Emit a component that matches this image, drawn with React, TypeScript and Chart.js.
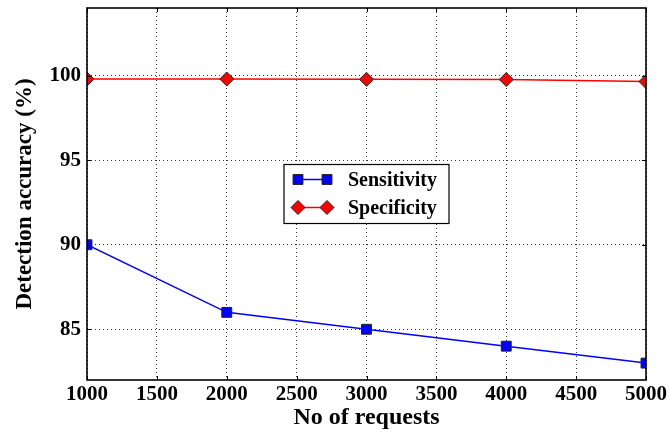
import React, { useEffect, useRef } from "react";
import { Chart, registerables } from "chart.js";

Chart.register(...registerables);

const requests = [1000, 2000, 3000, 4000, 5000];
const sensitivity = [90, 86, 85, 84, 83];
const specificity = [99.8, 99.8, 99.78, 99.77, 99.65];
const xTickValues = [1000, 1500, 2000, 2500, 3000, 3500, 4000, 4500, 5000];
const yTickValues = [85, 90, 95, 100];
const seriesNames = ["Sensitivity", "Specificity"];
const xTitle = "No of requests";
const yTitle = "Detection accuracy (%)";

const SERIF = '"Liberation Serif", "DejaVu Serif", serif';

function drawMarker(ctx: CanvasRenderingContext2D, style: string, x: number, y: number, r: number, fill: string) {
  ctx.beginPath();
  if (style === "rect") {
    const s = r * Math.SQRT1_2;
    ctx.rect(x - s, y - s, 2 * s, 2 * s);
  } else {
    ctx.moveTo(x, y - r);
    ctx.lineTo(x + r, y);
    ctx.lineTo(x, y + r);
    ctx.lineTo(x - r, y);
    ctx.closePath();
  }
  ctx.fillStyle = fill;
  ctx.fill();
  ctx.lineWidth = 1;
  ctx.strokeStyle = "#222";
  ctx.stroke();
}

const framePlugin = {
  id: "frameAndLegend",
  afterDatasetsDraw(chart: any) {
    const { ctx, chartArea: a, scales } = chart;
    ctx.save();
    // inward tick marks
    ctx.strokeStyle = "#000";
    ctx.lineWidth = 1;
    ctx.setLineDash([]);
    const L = 4;
    ctx.beginPath();
    scales.x.ticks.forEach((t: any) => {
      const px = Math.round(scales.x.getPixelForValue(t.value)) + 0.5;
      ctx.moveTo(px, a.bottom);
      ctx.lineTo(px, a.bottom - L);
      ctx.moveTo(px, a.top);
      ctx.lineTo(px, a.top + L);
    });
    scales.y.ticks.forEach((t: any) => {
      const py = Math.round(scales.y.getPixelForValue(t.value)) + 0.5;
      ctx.moveTo(a.left, py);
      ctx.lineTo(a.left + L, py);
      ctx.moveTo(a.right, py);
      ctx.lineTo(a.right - L, py);
    });
    ctx.stroke();
    // frame
    ctx.lineWidth = 1.6;
    ctx.strokeRect(a.left, a.top, a.right - a.left, a.bottom - a.top);

    // legend (matplotlib loc="center")
    const bw = 165;
    const bh = 59;
    const cx = (a.left + a.right) / 2;
    const cy = (a.top + a.bottom) / 2;
    const bx = cx - bw / 2;
    const by = cy - bh / 2;
    ctx.fillStyle = "#fff";
    ctx.fillRect(bx, by, bw, bh);
    ctx.lineWidth = 1.2;
    ctx.strokeStyle = "#000";
    ctx.strokeRect(bx, by, bw, bh);
    chart.data.datasets.forEach((ds: any, i: number) => {
      const y = by + 15 + i * 28;
      const x1 = bx + 14;
      const x2 = bx + 43;
      ctx.beginPath();
      ctx.moveTo(x1, y);
      ctx.lineTo(x2, y);
      ctx.strokeStyle = ds.borderColor;
      ctx.lineWidth = 1.5;
      ctx.stroke();
      drawMarker(ctx, ds.pointStyle, x1, y, ds.pointRadius, ds.pointBackgroundColor);
      drawMarker(ctx, ds.pointStyle, x2, y, ds.pointRadius, ds.pointBackgroundColor);
      ctx.fillStyle = "#000";
      ctx.font = `bold 20px ${SERIF}`;
      ctx.textAlign = "left";
      ctx.textBaseline = "middle";
      ctx.fillText(ds.label, bx + 64, y + 1);
    });
    ctx.restore();
  },
};

export default function App() {
  const ref = useRef<HTMLCanvasElement | null>(null);
  useEffect(() => {
    document.body.style.margin = "0";
    const canvas = ref.current;
    if (!canvas) return;
    const chart = new Chart(canvas, {
      type: "line",
      data: {
        datasets: [
          {
            label: seriesNames[0],
            data: requests.map((x, i) => ({ x, y: sensitivity[i] })),
            borderColor: "#0000ff",
            backgroundColor: "#0000ff",
            pointBackgroundColor: "#0000ff",
            pointBorderColor: "#222",
            pointBorderWidth: 1,
            pointStyle: "rect",
            pointRadius: 7,
            borderWidth: 1.5,
            tension: 0,
          } as any,
          {
            label: seriesNames[1],
            data: requests.map((x, i) => ({ x, y: specificity[i] })),
            borderColor: "#ff0000",
            backgroundColor: "#ff0000",
            pointBackgroundColor: "#ff0000",
            pointBorderColor: "#222",
            pointBorderWidth: 1,
            pointStyle: "rectRot",
            pointRadius: 7,
            borderWidth: 1.5,
            tension: 0,
          } as any,
        ],
      },
      options: {
        animation: false,
        responsive: false,
        devicePixelRatio: 1,
        layout: { padding: { left: 0, top: 7, right: 24, bottom: 0 } },
        plugins: { legend: { display: false }, tooltip: { enabled: false } },
        scales: {
          x: {
            type: "linear",
            min: 1000,
            max: 5000,
            afterBuildTicks: (s: any) => {
              s.ticks = xTickValues.map((v) => ({ value: v }));
            },
            afterFit: (s: any) => {
              s.height = 52;
              s.paddingLeft = 0;
              s.paddingRight = 0;
            },
            grid: { color: "#333", lineWidth: 1, drawTicks: false },
            border: { display: false, dash: [1, 3] },
            ticks: {
              color: "#000",
              padding: 2,
              maxRotation: 0,
              autoSkip: false,
              font: { family: SERIF, size: 21, weight: "bold" },
              callback: (v: any) => String(v),
            },
            title: {
              display: true,
              text: xTitle,
              color: "#000",
              font: { family: SERIF, size: 24, weight: "bold" },
              padding: { top: 0, bottom: 0 },
            },
          },
          y: {
            type: "linear",
            min: 82,
            max: 104,
            afterBuildTicks: (s: any) => {
              s.ticks = yTickValues.map((v) => ({ value: v }));
            },
            afterFit: (s: any) => {
              s.width = 87;
              s.paddingTop = 0;
              s.paddingBottom = 0;
            },
            grid: { color: "#333", lineWidth: 1, drawTicks: false },
            border: { display: false, dash: [1, 3] },
            ticks: {
              color: "#000",
              padding: 6,
              font: { family: SERIF, size: 21, weight: "bold" },
              callback: (v: any) => String(v),
            },
            title: {
              display: true,
              text: yTitle,
              color: "#000",
              font: { family: SERIF, size: 23, weight: "bold" },
              padding: { top: 11, bottom: 0 },
            },
          },
        },
      },
      plugins: [framePlugin],
    });
    return () => chart.destroy();
  }, []);
  return (
    <div style={{ position: "absolute", left: 0, top: 0, width: 670, height: 432, background: "#fff" }}>
      <canvas ref={ref} width={670} height={432} />
    </div>
  );
}
